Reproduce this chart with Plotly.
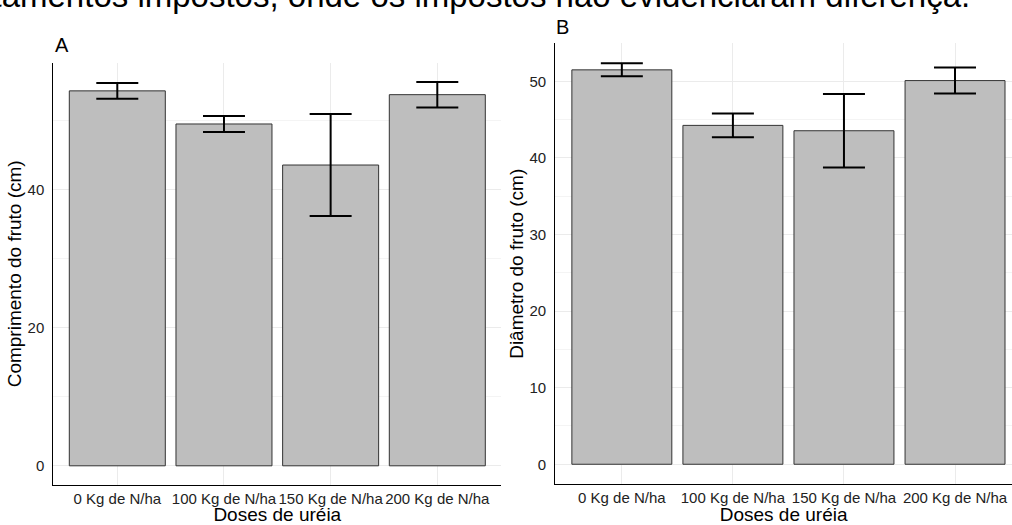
import plotly.graph_objects as go

categories = ["0 Kg de N/ha", "100 Kg de N/ha", "150 Kg de N/ha", "200 Kg de N/ha"]
comprimento = [54.35, 49.55, 43.6, 53.8]
comprimento_err = [1.15, 1.15, 7.4, 1.85]
diametro = [51.5, 44.25, 43.55, 50.1]
diametro_err = [0.85, 1.55, 4.8, 1.7]

W, H = 1012, 525
FONT = "Liberation Sans, Arial, sans-serif"

def px_x(p):
    return p / W

def px_y(p):
    return (H - p) / H

fig = go.Figure()

bar_style = dict(marker=dict(color="#bebebe", line=dict(color="#333333", width=1)), width=0.9,
                 showlegend=False, hoverinfo="skip")
err_style = dict(type="data", visible=True, color="black", thickness=2, width=21)

fig.add_trace(go.Bar(x=categories, y=comprimento,
                     error_y=dict(array=comprimento_err, **err_style),
                     xaxis="x", yaxis="y", **bar_style))
fig.add_trace(go.Bar(x=categories, y=diametro,
                     error_y=dict(array=diametro_err, **err_style),
                     xaxis="x2", yaxis="y2", **bar_style))

maxA = max(v + e for v, e in zip(comprimento, comprimento_err))
maxB = max(v + e for v, e in zip(diametro, diametro_err))

grid_major = "#ebebeb"
grid_minor = "#f4f4f4"

common_x = dict(type="category", showline=True, linecolor="black", linewidth=1,
                showgrid=True, gridcolor=grid_major, gridwidth=1, zeroline=False,
                ticks="", tickangle=0, tickfont=dict(family=FONT, size=15, color="#222222"),
                title=dict(text="Doses de uréia", font=dict(family=FONT, size=19, color="black"),
                           standoff=0),
                automargin=False, fixedrange=True)
common_y = dict(showline=True, linecolor="black", linewidth=1, showgrid=True,
                gridcolor=grid_major, gridwidth=1, zeroline=False, ticks="",
                tickfont=dict(family=FONT, size=15, color="#222222"),
                ticklabelstandoff=5, automargin=False, fixedrange=True)

fig.update_layout(
    width=W, height=H,
    margin=dict(l=0, r=0, t=0, b=0),
    paper_bgcolor="white", plot_bgcolor="white",
    bargap=0.1,
    xaxis=dict(domain=[px_x(53.3), px_x(501.3)], range=[-0.6, 3.6], anchor="y", **common_x),
    yaxis=dict(domain=[px_y(485), px_y(62.7)], range=[-0.05 * maxA, 1.05 * maxA],
               tickvals=[0, 20, 40], anchor="x",
               minor=dict(tickvals=[10, 30, 50], showgrid=True, gridcolor=grid_minor, gridwidth=1),
               title=dict(text="Comprimento do fruto (cm)", font=dict(family=FONT, size=19, color="black"),
                          standoff=0),
               **common_y),
    xaxis2=dict(domain=[px_x(555.2), 1.0], range=[-0.6, 3.513], anchor="y2", **common_x),
    yaxis2=dict(domain=[px_y(484.3), px_y(43.3)], range=[-0.05 * maxB, 1.05 * maxB],
                tickvals=[0, 10, 20, 30, 40, 50], anchor="x2",
                minor=dict(tickvals=[5, 15, 25, 35, 45], showgrid=True, gridcolor=grid_minor, gridwidth=1),
                title=dict(text="Diâmetro do fruto (cm)", font=dict(family=FONT, size=19, color="black"),
                           standoff=0),
                **common_y),
    annotations=[
        dict(text="A", xref="paper", yref="paper", x=px_x(53), y=px_y(45), xanchor="left",
             yanchor="middle", showarrow=False, font=dict(family=FONT, size=20, color="black")),
        dict(text="B", xref="paper", yref="paper", x=px_x(554), y=px_y(27), xanchor="left",
             yanchor="middle", showarrow=False, font=dict(family=FONT, size=20, color="black")),
        dict(text="tratamentos impostos, onde os impostos não evidenciaram diferença.",
             xref="paper", yref="paper", x=px_x(972), y=px_y(-4), xanchor="right",
             yanchor="middle", showarrow=False, font=dict(family=FONT, size=33, color="black")),
    ],
)

fig.write_html("out.html", config={"displayModeBar": False},
               post_script="document.body.style.margin='0';document.body.style.overflow='hidden';")
